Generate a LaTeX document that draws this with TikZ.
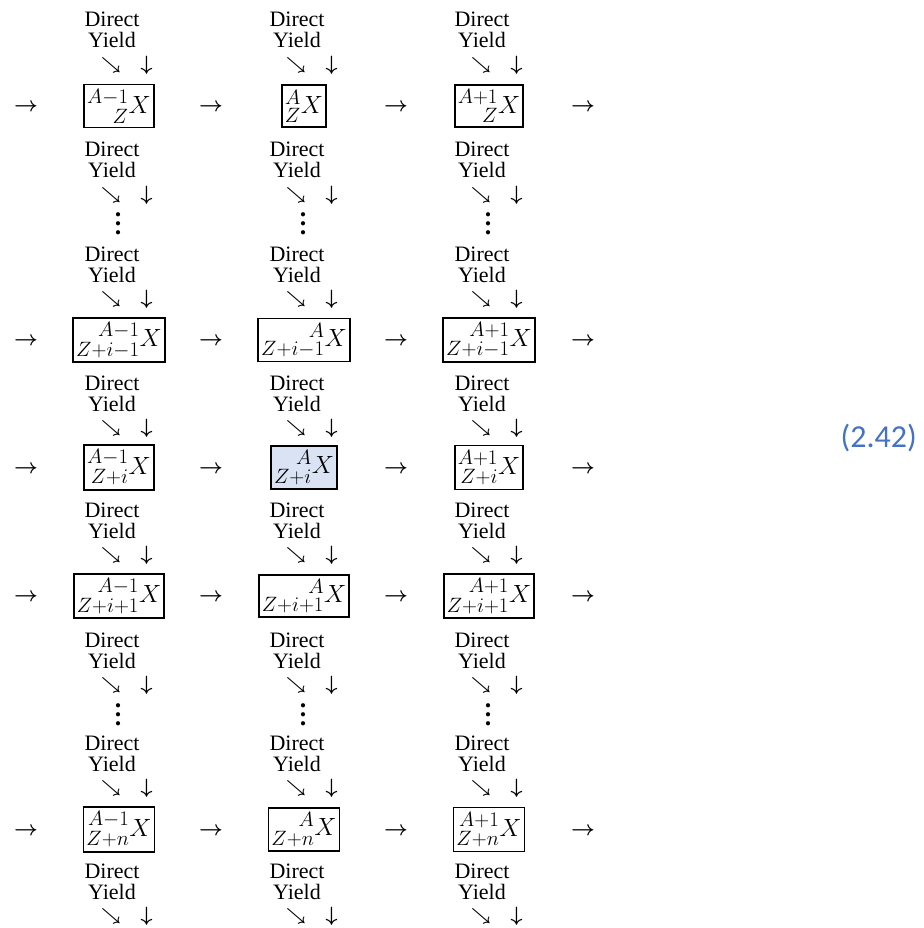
\documentclass[tikz,border=0pt]{standalone}
\usepackage{fontspec}
\usepackage{mathtools}
\setmainfont{Liberation Serif}
\newfontfamily\numfont{Carlito}
\definecolor{eqblue}{HTML}{4472C4}
\definecolor{hlblue}{HTML}{DAE3F3}
\newcommand\myvd{\vbox{\baselineskip=9pt\lineskiplimit=0pt\hbox{.}\hbox{.}\hbox{.}}}
\begin{document}
\begin{tikzpicture}[x=1pt,y=-1pt,
  lbl/.style={anchor=base, font=\fontsize{22}{26}\selectfont, inner sep=0pt},
  arr/.style={anchor=center, font=\fontsize{20}{24}\selectfont, inner sep=0pt},
  sarr/.style={anchor=center, font=\fontsize{18}{22}\selectfont, inner sep=0pt},
  harr/.style={anchor=base, font=\fontsize{22}{26}\selectfont, inner sep=0pt},
  dots/.style={anchor=center, font=\bfseries\fontsize{26}{30}\selectfont, inner sep=0pt},
  nuc/.style={draw, line width=1.8pt, inner xsep=3pt, inner ysep=4.5pt,
              font=\fontsize{31}{36}\selectfont, anchor=center},
  eqnum/.style={anchor=base east, font=\numfont\fontsize{32}{38}\selectfont,
                text=eqblue, inner sep=0pt}]
\useasboundingbox (0,0) rectangle (923,928);

% Direct / Yield groups with arrows
\foreach \g/\d in {0/27,1/157,2/261,3/390,4/517,5/647,6/750,7/878}{
  \foreach \c in {0,1,2}{
    \node[lbl] (dir-\g-\c) at ({112+185*\c},\d) {Direct};
    \node[lbl] (yld-\g-\c) at ({112+185*\c},{\d+21}) {Yield};
    \node[sarr] (se-\g-\c) at ({111+185*\c},{\d+38}) {$\boldsymbol{\searrow}$};
    \node[arr] (dn-\g-\c) at ({146.5+185*\c},{\d+38}) {$\boldsymbol{\downarrow}$};
  }
}

% vertical dots
\foreach \v/\yy in {0/224,1/715}{
  \foreach \c in {0,1,2}{
    \node[dots] (vd-\v-\c) at ({118+185*\c},\yy) {\myvd};
  }
}

% nuclide boxes
\foreach \r/\nsub/\yc in {0/Z/106,1/Z+i-1/340,2/Z+i/467.5,3/Z+i+1/596,4/Z+n/829.5}{
  \foreach \c/\nsup in {0/A-1,1/A,2/A+1}{
    \tikzset{cur/.style={}}
    \ifnum\r\c=21 \tikzset{cur/.style={fill=hlblue}}\fi
    \node[nuc,cur] (box-\r-\c) at ({119+185*\c},\yc) {$\prescript{\nsup}{\nsub}{X}$};
  }
  \foreach \j/\xx in {0/26,1/211,2/396,3/583}{
    \node[harr] (ra-\r-\j) at (\xx,{\yc+5.5}) {$\boldsymbol{\rightarrow}$};
  }
}

% equation number
\node[eqnum] (eqn) at (917,447) {(2.42)};
\end{tikzpicture}
\end{document}
